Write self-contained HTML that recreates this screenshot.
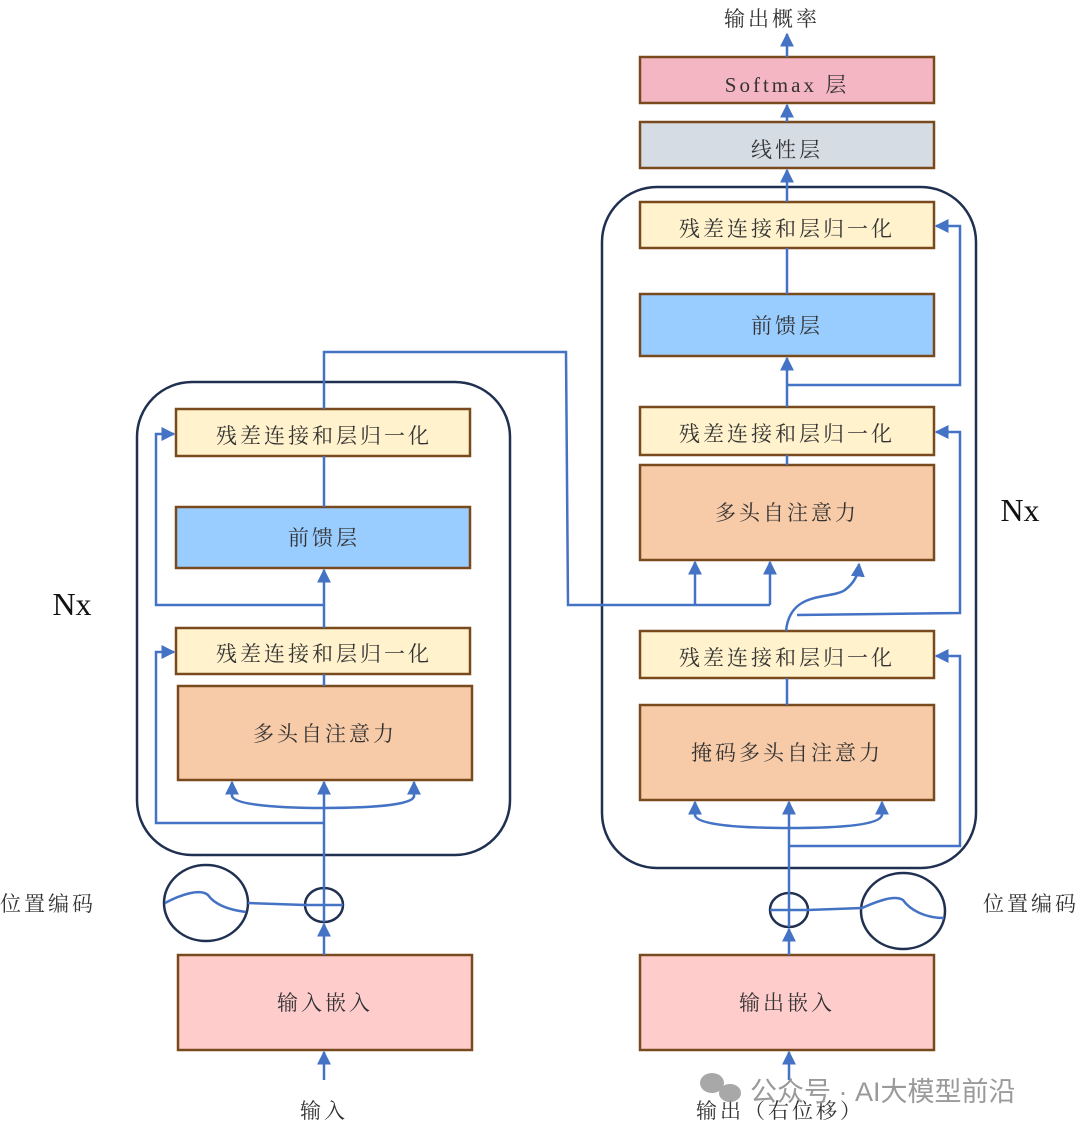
<!DOCTYPE html>
<html><head><meta charset="utf-8"><style>
html,body{margin:0;padding:0;background:#fff}
svg{display:block}
text{font-family:"Liberation Serif","Noto Serif CJK SC",serif;fill:#333}
</style></head><body>
<svg width="1080" height="1134" viewBox="0 0 1080 1134" xmlns="http://www.w3.org/2000/svg">
<defs>
<marker id="a" viewBox="0 0 10 10" refX="9" refY="5" markerWidth="14" markerHeight="14" markerUnits="userSpaceOnUse" orient="auto">
<path d="M0,0 L10,5 L0,10 z" fill="#4472c4"/></marker>
</defs>
<g stroke="#1f3050" stroke-width="2.5" fill="none">
<rect x="137" y="382" width="373" height="473" rx="55"/>
<rect x="602" y="187" width="374" height="681" rx="55"/>
<ellipse cx="206" cy="903" rx="42" ry="38"/>
<ellipse cx="324" cy="905" rx="19" ry="17"/>
<ellipse cx="903" cy="911" rx="42" ry="38"/>
<ellipse cx="789" cy="910" rx="19" ry="17"/>
</g>
<g stroke="#7a4a1f" stroke-width="2.5">
<rect x="176" y="409" width="294" height="47" fill="#fff2cc"/>
<rect x="176" y="507" width="294" height="61" fill="#99ccff"/>
<rect x="176" y="628" width="294" height="46" fill="#fff2cc"/>
<rect x="178" y="686" width="294" height="94" fill="#f8cba8"/>
<rect x="178" y="955" width="294" height="95" fill="#ffcccc"/>
<rect x="640" y="57" width="294" height="46" fill="#f4b6c2"/>
<rect x="640" y="122" width="294" height="46" fill="#d6dce4"/>
<rect x="640" y="202" width="294" height="46" fill="#fff2cc"/>
<rect x="640" y="294" width="294" height="62" fill="#99ccff"/>
<rect x="640" y="407" width="294" height="48" fill="#fff2cc"/>
<rect x="640" y="465" width="294" height="95" fill="#f8cba8"/>
<rect x="640" y="631" width="294" height="47" fill="#fff2cc"/>
<rect x="640" y="705" width="294" height="95" fill="#f8cba8"/>
<rect x="640" y="955" width="294" height="95" fill="#ffcccc"/>
</g>
<g stroke="#4472c4" stroke-width="2.5" fill="none">
<!-- left encoder -->
<line x1="324" y1="1080" x2="324" y2="1052" marker-end="url(#a)"/>
<line x1="324" y1="955" x2="324" y2="924" marker-end="url(#a)"/>
<line x1="324" y1="922" x2="324" y2="782" marker-end="url(#a)"/>
<line x1="305" y1="905" x2="343" y2="905"/>
<line x1="248" y1="903" x2="305" y2="905"/>
<path d="M165,903 C180,895 200,888 208,895 C215,905 230,910 246,912"/>
<path d="M324,808 C280,808 234,805 232,796" />
<line x1="232" y1="797" x2="232" y2="782" marker-end="url(#a)"/>
<path d="M324,808 C370,808 414,805 414,796"/>
<line x1="414" y1="797" x2="414" y2="782" marker-end="url(#a)"/>
<polyline points="324,823 156,823 156,652 174,652" marker-end="url(#a)"/>
<line x1="324" y1="686" x2="324" y2="674"/>
<line x1="324" y1="628" x2="324" y2="570" marker-end="url(#a)"/>
<polyline points="324,605 156,605 156,434 174,434" marker-end="url(#a)"/>
<line x1="324" y1="507" x2="324" y2="456"/>
<polyline points="324,409 324,352 566,352 568,605 770,605"/>
<line x1="695" y1="605" x2="695" y2="562" marker-end="url(#a)"/>
<line x1="770" y1="605" x2="770" y2="562" marker-end="url(#a)"/>
<!-- right decoder -->
<line x1="789" y1="1080" x2="789" y2="1052" marker-end="url(#a)"/>
<line x1="789" y1="955" x2="789" y2="929" marker-end="url(#a)"/>
<line x1="789" y1="927" x2="789" y2="802" marker-end="url(#a)"/>
<line x1="770" y1="910" x2="808" y2="910"/>
<line x1="808" y1="910" x2="862" y2="908"/>
<path d="M862,908 C880,900 895,895 903,900 C910,910 925,918 944,918"/>
<path d="M789,828 C740,828 696,825 695,815"/>
<line x1="695" y1="816" x2="695" y2="802" marker-end="url(#a)"/>
<path d="M789,828 C840,828 880,825 882,815"/>
<line x1="882" y1="816" x2="882" y2="802" marker-end="url(#a)"/>
<polyline points="789,846 960,846 960,656 936,656" marker-end="url(#a)"/>
<line x1="787" y1="705" x2="787" y2="678"/>
<path d="M786,631 C790,590 830,600 845,590 C855,582 858,575 859,564" marker-end="url(#a)"/>
<polyline points="797,615 960,613 960,432 936,432" marker-end="url(#a)"/>
<line x1="787" y1="465" x2="787" y2="455"/>
<line x1="787" y1="407" x2="787" y2="358" marker-end="url(#a)"/>
<polyline points="787,385 960,385 960,226 936,226" marker-end="url(#a)"/>
<line x1="787" y1="294" x2="787" y2="248"/>
<line x1="787" y1="202" x2="787" y2="170" marker-end="url(#a)"/>
<line x1="787" y1="122" x2="787" y2="105" marker-end="url(#a)"/>
<line x1="787" y1="57" x2="787" y2="34" marker-end="url(#a)"/>
</g>
<g font-size="21" text-anchor="middle" letter-spacing="3">
<text x="324" y="443">残差连接和层归一化</text>
<text x="324" y="545">前馈层</text>
<text x="324" y="661">残差连接和层归一化</text>
<text x="325" y="741">多头自注意力</text>
<text x="325" y="1010">输入嵌入</text>
<text x="324" y="1118">输入</text>
<text x="48" y="911">位置编码</text>
<text x="787" y="92">Softmax 层</text>
<text x="787" y="157">线性层</text>
<text x="787" y="236">残差连接和层归一化</text>
<text x="787" y="333">前馈层</text>
<text x="787" y="441">残差连接和层归一化</text>
<text x="787" y="520">多头自注意力</text>
<text x="787" y="665">残差连接和层归一化</text>
<text x="787" y="760">掩码多头自注意力</text>
<text x="787" y="1010">输出嵌入</text>
<text x="1031" y="911">位置编码</text>
<text x="772" y="26">输出概率</text>
<text x="780" y="1118">输出（右位移）</text>
</g>
<text x="72" y="615" font-size="32" text-anchor="middle" fill="#111" style="fill:#111">Nx</text>
<text x="1020" y="521" font-size="32" text-anchor="middle" style="fill:#111">Nx</text>
<g fill="#999" opacity="0.85">
<ellipse cx="712" cy="1083" rx="12" ry="10"/>
<ellipse cx="730" cy="1093" rx="11" ry="9"/>
</g>
<text x="750" y="1101" font-size="27" style="fill:#9a9a9a;font-family:'Liberation Sans','Noto Sans CJK SC',sans-serif">公众号 · AI大模型前沿</text>
</svg>
</body></html>
